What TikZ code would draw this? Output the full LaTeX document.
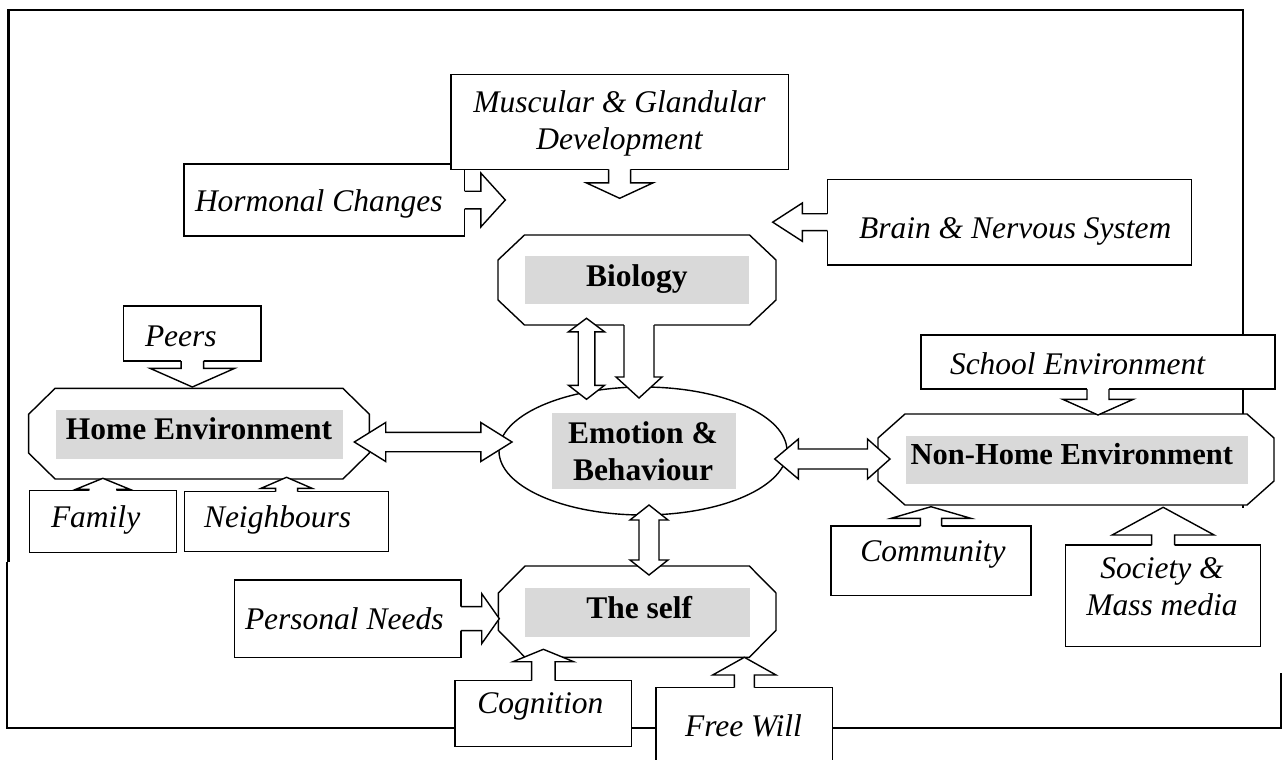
\documentclass[tikz,border=0pt]{standalone}
\usepackage{fontspec}
\setmainfont{Liberation Serif}
\usetikzlibrary{calc,shapes.geometric}
\definecolor{bandgrey}{RGB}{217,217,217}
\tikzset{
  frameline/.style={line width=2.2pt},
  boxshape/.style={draw, line width=1.4pt, fill=white, rectangle, inner sep=0pt, outer sep=0pt},
  octline/.style={draw, line width=1.4pt, fill=white, line join=miter},
  arrline/.style={draw, line width=1.4pt, line join=miter, miter limit=20},
  itx/.style={font=\fontsize{31.5}{37}\selectfont\itshape, inner sep=0pt, outer sep=0pt},
  btx/.style={font=\fontsize{31.5}{37}\selectfont\bfseries, inner sep=0pt, outer sep=0pt},
  band/.style={fill=bandgrey},
  pics/barrow/.style args={#1/#2/#3/#4}{code={
    \fill[white] (-2.5,-#2) -- ({#1-#4},-#2) -- ({#1-#4},-#3) -- (#1,0) -- ({#1-#4},#3) -- ({#1-#4},#2) -- (-2.5,#2) -- cycle;
    \draw[arrline] (0,-#2) -- ({#1-#4},-#2) -- ({#1-#4},-#3) -- (#1,0) -- ({#1-#4},#3) -- ({#1-#4},#2) -- (0,#2);
  }},
  pics/darrow/.style args={#1/#2/#3/#4/#5}{code={
    \filldraw[arrline, fill=white] (0,0) -- (#4,-#3) -- (#4,-#2) -- ({#1-#5},-#2) -- ({#1-#5},-#3) -- (#1,0) -- ({#1-#5},#3) -- ({#1-#5},#2) -- (#4,#2) -- (#4,#3) -- cycle;
  }},
}
\newcommand\rbox[5]{%
  \pgfmathsetmacro\rbw{#4-#2}\pgfmathsetmacro\rbh{#5-#3}%
  \node[boxshape, minimum width=\rbw pt, minimum height=\rbh pt] (#1) at ({(#2+#4)/2},{(#3+#5)/2}) {};}
\newcommand\octo[7]{%
  \pgfmathsetmacro\rbw{#4-#2}\pgfmathsetmacro\rbh{#5-#3}%
  \node[inner sep=0pt, outer sep=0pt, minimum width=\rbw pt, minimum height=\rbh pt] (#1) at ({(#2+#4)/2},{(#3+#5)/2}) {};
  \path[octline] ({#2+#6},#3) -- ({#4-#6},#3) -- (#4,{#3+#7}) -- (#4,{#5-#7}) -- ({#4-#6},#5) -- ({#2+#6},#5) -- (#2,{#5-#7}) -- (#2,{#3+#7}) -- cycle;}

\begin{document}
\begin{tikzpicture}[x=1pt,y=-1pt]
\useasboundingbox (0,0) rectangle (1282,760);

% outer frame
\draw[frameline] (8.5,562) -- (8.5,10) -- (1243,10) -- (1243,508);
\draw[frameline] (7,562) -- (7,728) -- (1281,728) -- (1281,673);

% biology inputs
\rbox{hormonal}{184}{164}{464.5}{236}
\node[itx, anchor=base west] (horm-t) at (195,211.7) {Hormonal Changes};
\pic at (hormonal.east) {barrow=40.8/8.8/27/24.5};
\rbox{muscular}{451}{74.3}{788.3}{169.3}
\node[itx, anchor=base] (musc-t) at (619.5,112.7) {\begin{tabular}[t]{@{}c@{}}Muscular \& Glandular\\Development\end{tabular}};
\pic[rotate=-90] at (muscular.south) {barrow=29/11/33.5/15.5};
\rbox{brain}{827.3}{179.3}{1191.7}{265}
\node[itx, anchor=base west] (brain-t) at (859,238) {Brain \& Nervous System};
\pic[rotate=180] at (brain.west) {barrow=54.6/8.4/19.2/29.7};

% biology
\octo{bio}{498}{235}{776}{325}{26.5}{25}
\fill[band] (524.5,256) rectangle (749.4,304);
\node[btx, anchor=base] (bio-t) at (636.8,286) {Biology};

% emotion
\node[draw, ellipse, line width=1.4pt, fill=white, inner sep=0pt, outer sep=0pt, minimum width=288pt, minimum height=128pt] (emo) at (643,451) {};
\fill[band] (552,413) rectangle (735.5,489);
\node[btx, anchor=base] (emo-t) at (643,443.3) {\begin{tabular}[t]{@{}c@{}}Emotion \&\\Behaviour\end{tabular}};

% home environment
\octo{home}{28.6}{388.3}{369.4}{479}{26.5}{26}
\fill[band] (56,410) rectangle (343,459);
\node[btx, anchor=base] (home-t) at (199,439.3) {Home Environment};
\rbox{peers}{123.7}{306}{261}{361}
\node[itx, anchor=base west] (peers-t) at (145,346.7) {Peers};
\pic[rotate=-90] at (peers.south) {barrow=26/11.2/42.4/18.7};
\rbox{family}{29.4}{490.7}{176.3}{552.7}
\node[itx, anchor=base west] (fam-t) at (51,527.7) {Family};
\pic[rotate=90] at (family.north) {barrow=12.4/14/27/11};
\rbox{neigh}{184.5}{491.7}{388.6}{551.7}
\node[itx, anchor=base west] (nei-t) at (204,527.7) {Neighbours};
\pic[rotate=90] at (neigh.north) {barrow=14.4/11/25.5/11};

% non-home environment
\rbox{school}{921}{335}{1275}{389}
\node[itx, anchor=base west] (school-t) at (950,374) {School Environment};
\octo{nonhome}{878}{414}{1274}{505}{27}{24}
\fill[band] (906,436) rectangle (1248,484);
\node[btx, anchor=base west, font=\fontsize{30.5}{36}\selectfont\bfseries] (non-t) at (910.7,464.3) {Non-Home Environment};
\pic[rotate=-90] at (school.south) {barrow=26/11/35.3/15.7};
\rbox{community}{831}{526}{1031}{595.7}
\node[itx, anchor=base west] (com-t) at (860.4,561.7) {Community};
\pic[rotate=90] at (community.north) {barrow=19.3/10.6/39.8/11.6};
\rbox{society}{1065.7}{545}{1260.6}{646.7}
\node[itx, anchor=base] (soc-t) at (1162,578.3) {\begin{tabular}[t]{@{}c@{}}Society \&\\Mass media\end{tabular}};
\pic[rotate=90] at (society.north) {barrow=37.7/11.5/51/27.7};

% the self
\octo{self}{498.3}{566}{776}{657.3}{26.7}{27}
\fill[band] (525,588) rectangle (750,637);
\node[btx, anchor=base] (self-t) at (639.2,618.3) {The self};
\rbox{personal}{234.7}{580}{461}{657.3}
\node[itx, anchor=base west] (pers-t) at (245,629.3) {Personal Needs};
\pic at (personal.east) {barrow=38.3/12/25/17.6};
\rbox{cognition}{455}{680.7}{631.7}{746.7}
\node[itx, anchor=base west] (cog-t) at (477.3,713) {Cognition};
\pic[rotate=90] at (cognition.north) {barrow=31.4/11.7/30.3/12.4};
\rbox{freewill}{656}{687.7}{832.7}{775}
\node[itx, anchor=base west] (free-t) at (685,736) {Free Will};
\pic[rotate=90] at (freewill.north) {barrow=30.4/10/31.7/17.7};

% links to emotion & behaviour
\coordinate (be1) at (586.5,318.3);
\pic[rotate=-90] at (be1) {darrow=81/8.3/18/13.5/14};
\pic[rotate=-90] at ($(bio.south)+(2,0)$) {barrow=73/15/23/21};
\coordinate (he1) at (354.3,442);
\pic at (he1) {darrow=157.7/9.7/19.5/31.4/31.2};
\coordinate (en1) at (774.7,459);
\pic at (en1) {darrow=115.3/10/20/23.7/22.5};
\coordinate (es1) at (649,505);
\pic[rotate=-90] at (es1) {darrow=70/10/19/15/15};
\end{tikzpicture}
\end{document}
